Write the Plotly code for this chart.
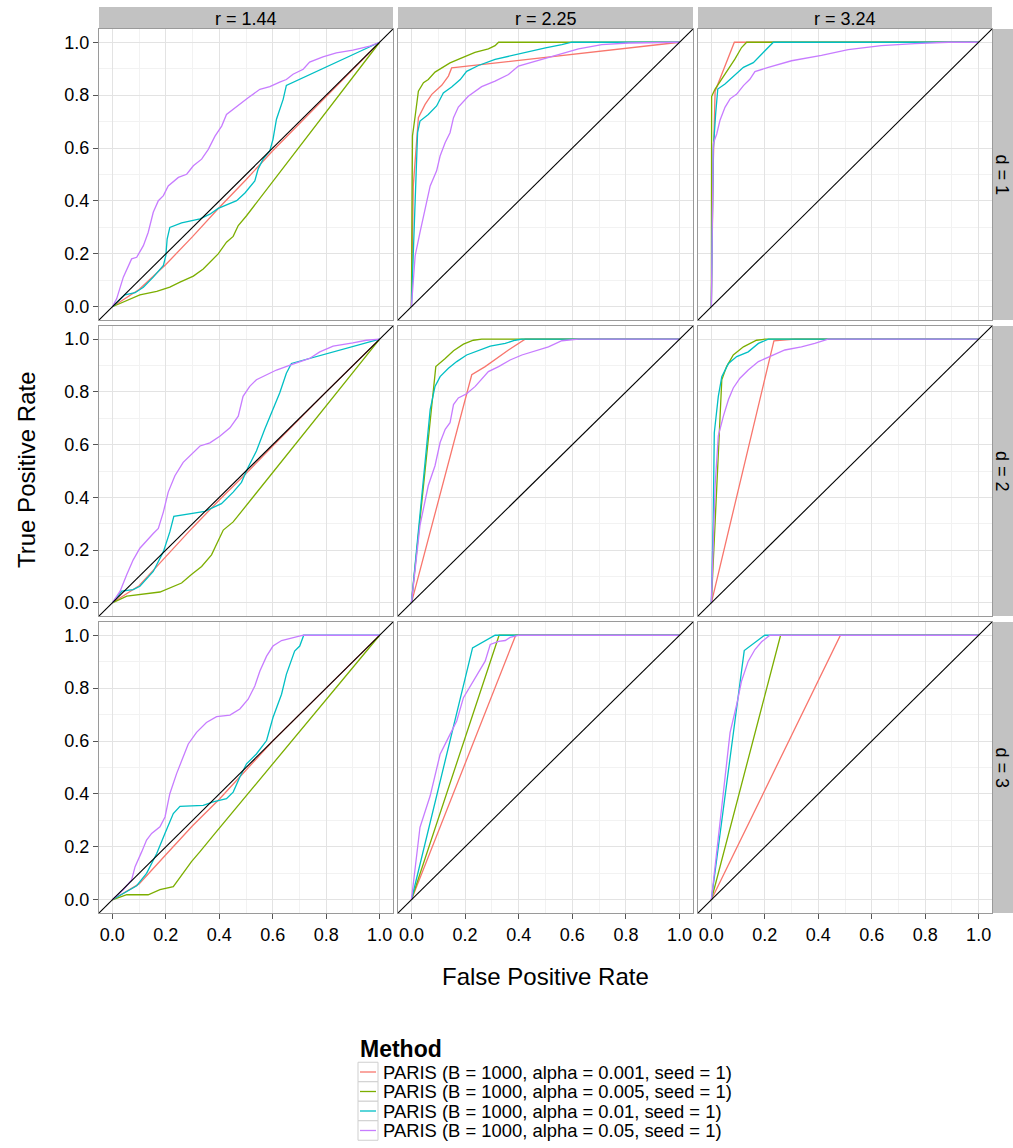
import plotly.graph_objects as go

# ---------------------------------------------------------------- data
METHODS = [
    "PARIS (B = 1000, alpha = 0.001, seed = 1)",
    "PARIS (B = 1000, alpha = 0.005, seed = 1)",
    "PARIS (B = 1000, alpha = 0.01, seed = 1)",
    "PARIS (B = 1000, alpha = 0.05, seed = 1)",
]
COLORS = ["#F8766D", "#7CAE00", "#00BFC4", "#C77CFF"]
R_LABELS = ["r = 1.44", "r = 2.25", "r = 3.24"]
D_LABELS = ["d = 1", "d = 2", "d = 3"]
TICK_VALS = [0.0, 0.2, 0.4, 0.6, 0.8, 1.0]
TICK_TEXT = ["0.0", "0.2", "0.4", "0.6", "0.8", "1.0"]
MINOR_VALS = [0.1, 0.3, 0.5, 0.7, 0.9]

# d = 1, r = 1.44
fpr_d1_r144_a1 = [0, 0.1, 0.2, 0.3, 0.4, 0.5, 0.6, 0.8, 1]
tpr_d1_r144_a1 = [0, 0.065, 0.16, 0.265, 0.375, 0.48, 0.59, 0.795, 1]
fpr_d1_r144_a5 = [0, 0.054, 0.103, 0.166, 0.215, 0.253, 0.303, 0.34, 0.365, 0.396, 0.427, 0.452, 0.471, 0.502, 1]
tpr_d1_r144_a5 = [0, 0.024, 0.045, 0.058, 0.074, 0.093, 0.116, 0.143, 0.168, 0.2, 0.244, 0.266, 0.307, 0.344, 1]
fpr_d1_r144_a10 = [0, 0.047, 0.085, 0.116, 0.153, 0.191, 0.2, 0.205, 0.215, 0.234, 0.259, 0.328, 0.365, 0.396,
                   0.427, 0.465, 0.496, 0.533, 0.545, 0.564, 0.589, 0.601, 0.614, 0.639, 0.651, 1]
tpr_d1_r144_a10 = [0, 0.045, 0.053, 0.074, 0.112, 0.156, 0.193, 0.256, 0.3, 0.307, 0.317, 0.332, 0.35, 0.372,
                   0.384, 0.401, 0.43, 0.476, 0.52, 0.558, 0.589, 0.633, 0.709, 0.784, 0.837, 1]
fpr_d1_r144_a50 = [0, 0.016, 0.041, 0.072, 0.091, 0.116, 0.134, 0.153, 0.172, 0.191, 0.209, 0.247, 0.278, 0.303,
                   0.334, 0.359, 0.384, 0.409, 0.427, 0.465, 0.508, 0.552, 0.589, 0.626, 0.651, 0.676, 0.714,
                   0.738, 0.788, 0.838, 0.9, 0.963, 1]
tpr_d1_r144_a50 = [0, 0.03, 0.112, 0.181, 0.187, 0.231, 0.281, 0.357, 0.401, 0.42, 0.457, 0.489, 0.501, 0.533,
                   0.558, 0.595, 0.645, 0.683, 0.727, 0.758, 0.79, 0.822, 0.832, 0.849, 0.859, 0.879, 0.898,
                   0.925, 0.945, 0.96, 0.97, 0.985, 1]

# d = 1, r = 2.25
fpr_d1_r225_a1 = [0, 0.007, 0.026, 0.051, 0.076, 0.113, 0.138, 0.15, 1]
tpr_d1_r225_a1 = [0, 0.457, 0.715, 0.765, 0.803, 0.837, 0.872, 0.903, 1]
fpr_d1_r225_a5 = [0, 0.004, 0.014, 0.026, 0.045, 0.063, 0.088, 0.113, 0.144, 0.188, 0.237, 0.287, 0.312, 0.325, 0.598, 1]
tpr_d1_r225_a5 = [0, 0.646, 0.721, 0.815, 0.847, 0.859, 0.887, 0.903, 0.922, 0.941, 0.962, 0.975, 0.987, 1, 1, 1]
fpr_d1_r225_a10 = [0, 0.014, 0.023, 0.032, 0.063, 0.094, 0.119, 0.15, 0.182, 0.206, 0.25, 0.312, 0.374, 0.437,
                   0.5, 0.561, 0.598, 1]
tpr_d1_r225_a10 = [0, 0.382, 0.658, 0.702, 0.727, 0.759, 0.808, 0.831, 0.859, 0.89, 0.912, 0.935, 0.95, 0.966,
                   0.979, 0.991, 1, 1]
fpr_d1_r225_a50 = [0, 0.014, 0.032, 0.051, 0.07, 0.094, 0.107, 0.126, 0.144, 0.157, 0.175, 0.212, 0.262, 0.312,
                   0.362, 0.399, 0.461, 0.548, 0.623, 0.71, 0.81, 1]
tpr_d1_r225_a50 = [0, 0.193, 0.281, 0.376, 0.457, 0.514, 0.57, 0.621, 0.658, 0.715, 0.755, 0.796, 0.832, 0.853,
                   0.878, 0.91, 0.928, 0.953, 0.975, 0.991, 0.997, 1]

# d = 1, r = 3.24
fpr_d1_r324_a1 = [0, 0.007, 0.014, 0.086, 1]
tpr_d1_r324_a1 = [0, 0.533, 0.815, 1, 1]
fpr_d1_r324_a5 = [0, 0.001, 0.001, 0.014, 0.039, 0.07, 0.088, 0.113, 0.132, 1]
tpr_d1_r324_a5 = [0, 0.628, 0.795, 0.823, 0.86, 0.905, 0.936, 0.98, 1, 1]
fpr_d1_r324_a10 = [0, 0.007, 0.016, 0.024, 0.051, 0.088, 0.12, 0.157, 0.194, 0.232, 1]
tpr_d1_r324_a10 = [0, 0.59, 0.729, 0.823, 0.842, 0.874, 0.905, 0.923, 0.96, 1, 1]
fpr_d1_r324_a50 = [0, 0.007, 0.02, 0.032, 0.051, 0.07, 0.095, 0.12, 0.144, 0.163, 0.213, 0.3, 0.412, 0.512,
                   0.636, 0.761, 0.887, 1]
tpr_d1_r324_a50 = [0, 0.616, 0.653, 0.704, 0.754, 0.786, 0.804, 0.836, 0.86, 0.889, 0.905, 0.93, 0.95, 0.972,
                   0.987, 0.995, 1, 1]

# d = 2, r = 1.44
fpr_d2_r144_a1 = [0, 0.1, 0.2, 0.3, 0.4, 0.5, 0.6, 0.8, 1]
tpr_d2_r144_a1 = [0, 0.065, 0.175, 0.285, 0.39, 0.49, 0.595, 0.8, 1]
fpr_d2_r144_a5 = [0, 0.054, 0.178, 0.215, 0.259, 0.296, 0.334, 0.371, 0.396, 0.415, 0.452, 1]
tpr_d2_r144_a5 = [0, 0.025, 0.041, 0.056, 0.075, 0.107, 0.138, 0.182, 0.232, 0.276, 0.307, 1]
fpr_d2_r144_a10 = [0, 0.035, 0.078, 0.103, 0.153, 0.191, 0.215, 0.23, 0.346, 0.408, 0.452, 0.483, 0.508, 0.539,
                   0.57, 0.601, 0.626, 0.651, 0.67, 1]
tpr_d2_r144_a10 = [0, 0.044, 0.05, 0.063, 0.119, 0.194, 0.269, 0.328, 0.347, 0.376, 0.42, 0.457, 0.514, 0.576,
                   0.658, 0.733, 0.796, 0.871, 0.908, 1]
fpr_d2_r144_a50 = [0, 0.029, 0.054, 0.078, 0.103, 0.134, 0.153, 0.172, 0.191, 0.209, 0.234, 0.265, 0.296, 0.328,
                   0.365, 0.402, 0.44, 0.471, 0.489, 0.514, 0.539, 0.577, 0.614, 0.665, 0.738, 0.776, 0.826,
                   0.9, 0.95, 1]
tpr_d2_r144_a50 = [0, 0.044, 0.107, 0.163, 0.207, 0.244, 0.263, 0.282, 0.345, 0.42, 0.482, 0.533, 0.564, 0.595,
                   0.607, 0.632, 0.664, 0.708, 0.783, 0.821, 0.846, 0.865, 0.883, 0.902, 0.927, 0.952, 0.974,
                   0.986, 0.996, 1]

# d = 2, r = 2.25
fpr_d2_r225_a1 = [0, 0.225, 0.275, 0.312, 0.362, 0.424, 1]
tpr_d2_r225_a1 = [0, 0.865, 0.896, 0.924, 0.959, 1, 1]
fpr_d2_r225_a5 = [0, 0.073, 0.091, 0.126, 0.157, 0.194, 0.231, 0.262, 1]
tpr_d2_r225_a5 = [0, 0.733, 0.896, 0.927, 0.956, 0.981, 0.996, 1, 1]
fpr_d2_r225_a10 = [0, 0.039, 0.07, 0.088, 0.107, 0.138, 0.169, 0.206, 0.25, 0.294, 0.35, 0.387, 0.412, 1]
tpr_d2_r225_a10 = [0, 0.42, 0.733, 0.821, 0.858, 0.89, 0.915, 0.94, 0.956, 0.974, 0.984, 0.996, 1, 1]
fpr_d2_r225_a50 = [0, 0.032, 0.063, 0.088, 0.107, 0.126, 0.144, 0.157, 0.175, 0.206, 0.238, 0.269, 0.287, 0.325,
                   0.368, 0.412, 0.461, 0.511, 0.561, 0.623, 1]
tpr_d2_r225_a50 = [0, 0.294, 0.445, 0.52, 0.608, 0.658, 0.683, 0.752, 0.777, 0.793, 0.821, 0.858, 0.877, 0.896,
                   0.921, 0.94, 0.956, 0.971, 0.994, 1, 1]

# d = 2, r = 3.24
fpr_d2_r324_a1 = [0, 0.234, 0.313, 1]
tpr_d2_r324_a1 = [0, 0.994, 1, 1]
fpr_d2_r324_a5 = [0, 0.026, 0.039, 0.057, 0.082, 0.12, 0.169, 0.2, 1]
tpr_d2_r324_a5 = [0, 0.57, 0.846, 0.896, 0.94, 0.971, 0.996, 1, 1]
fpr_d2_r324_a10 = [0, 0.007, 0.011, 0.026, 0.039, 0.064, 0.095, 0.138, 0.176, 0.213, 1]
tpr_d2_r324_a10 = [0, 0.32, 0.645, 0.783, 0.858, 0.908, 0.934, 0.952, 0.984, 1, 1]
fpr_d2_r324_a50 = [0, 0.014, 0.026, 0.045, 0.064, 0.082, 0.107, 0.138, 0.176, 0.225, 0.275, 0.337, 0.387, 0.437, 1]
tpr_d2_r324_a50 = [0, 0.445, 0.633, 0.708, 0.771, 0.815, 0.852, 0.883, 0.915, 0.936, 0.959, 0.971, 0.984, 1, 1]

# d = 3, r = 1.44
fpr_d3_r144_a1 = [0, 0.1, 0.2, 0.3, 0.4, 0.5, 0.6, 0.8, 1]
tpr_d3_r144_a1 = [0, 0.06, 0.17, 0.28, 0.38, 0.49, 0.6, 0.8, 1]
fpr_d3_r144_a5 = [0, 0.054, 0.134, 0.178, 0.228, 0.265, 0.296, 0.328, 0.365, 0.384, 1]
tpr_d3_r144_a5 = [0, 0.019, 0.019, 0.038, 0.05, 0.1, 0.144, 0.182, 0.226, 0.251, 1]
fpr_d3_r144_a10 = [0, 0.041, 0.091, 0.128, 0.166, 0.197, 0.228, 0.253, 0.34, 0.377, 0.427, 0.452, 0.477, 0.502,
                   0.539, 0.577, 0.601, 0.633, 0.651, 0.682, 0.701, 0.716, 1]
tpr_d3_r144_a10 = [0, 0.025, 0.053, 0.1, 0.175, 0.251, 0.326, 0.353, 0.357, 0.37, 0.382, 0.407, 0.464, 0.514,
                   0.551, 0.602, 0.689, 0.777, 0.852, 0.94, 0.959, 1, 1]
fpr_d3_r144_a50 = [0, 0.041, 0.072, 0.085, 0.11, 0.128, 0.147, 0.178, 0.197, 0.215, 0.24, 0.265, 0.284, 0.315,
                   0.352, 0.39, 0.44, 0.477, 0.508, 0.533, 0.552, 0.577, 0.601, 0.633, 0.676, 0.714, 1]
tpr_d3_r144_a50 = [0, 0.038, 0.075, 0.125, 0.182, 0.226, 0.251, 0.276, 0.313, 0.401, 0.476, 0.539, 0.589, 0.633,
                   0.67, 0.692, 0.698, 0.721, 0.758, 0.808, 0.865, 0.921, 0.959, 0.98, 0.992, 1, 1]

# d = 3, r = 2.25
fpr_d3_r225_a1 = [0, 0.389, 1]
tpr_d3_r225_a1 = [0, 1, 1]
fpr_d3_r225_a5 = [0, 0.327, 1]
tpr_d3_r225_a5 = [0, 1, 1]
fpr_d3_r225_a10 = [0, 0.228, 0.312, 1]
tpr_d3_r225_a10 = [0, 0.952, 1, 1]
fpr_d3_r225_a50 = [0, 0.032, 0.07, 0.107, 0.138, 0.169, 0.194, 0.231, 0.256, 0.275, 0.294, 0.325, 0.35, 0.368, 0.402, 1]
tpr_d3_r225_a50 = [0, 0.274, 0.393, 0.55, 0.613, 0.676, 0.764, 0.827, 0.871, 0.902, 0.965, 0.977, 0.98, 0.992, 1, 1]

# d = 3, r = 3.24
fpr_d3_r324_a1 = [0, 0.483, 1]
tpr_d3_r324_a1 = [0, 1, 1]
fpr_d3_r324_a5 = [0, 0.259, 1]
tpr_d3_r324_a5 = [0, 1, 1]
fpr_d3_r324_a10 = [0, 0.123, 0.194, 0.2, 1]
tpr_d3_r324_a10 = [0, 0.942, 0.996, 1, 1]
fpr_d3_r324_a50 = [0, 0.07, 0.095, 0.113, 0.138, 0.163, 0.188, 0.219, 1]
tpr_d3_r324_a50 = [0, 0.632, 0.739, 0.827, 0.902, 0.946, 0.975, 1, 1]

# panel grid: rows are d, columns are r; each entry lists the four methods
PANELS = [
    [
        [(fpr_d1_r144_a1, tpr_d1_r144_a1), (fpr_d1_r144_a5, tpr_d1_r144_a5),
         (fpr_d1_r144_a10, tpr_d1_r144_a10), (fpr_d1_r144_a50, tpr_d1_r144_a50)],
        [(fpr_d1_r225_a1, tpr_d1_r225_a1), (fpr_d1_r225_a5, tpr_d1_r225_a5),
         (fpr_d1_r225_a10, tpr_d1_r225_a10), (fpr_d1_r225_a50, tpr_d1_r225_a50)],
        [(fpr_d1_r324_a1, tpr_d1_r324_a1), (fpr_d1_r324_a5, tpr_d1_r324_a5),
         (fpr_d1_r324_a10, tpr_d1_r324_a10), (fpr_d1_r324_a50, tpr_d1_r324_a50)],
    ],
    [
        [(fpr_d2_r144_a1, tpr_d2_r144_a1), (fpr_d2_r144_a5, tpr_d2_r144_a5),
         (fpr_d2_r144_a10, tpr_d2_r144_a10), (fpr_d2_r144_a50, tpr_d2_r144_a50)],
        [(fpr_d2_r225_a1, tpr_d2_r225_a1), (fpr_d2_r225_a5, tpr_d2_r225_a5),
         (fpr_d2_r225_a10, tpr_d2_r225_a10), (fpr_d2_r225_a50, tpr_d2_r225_a50)],
        [(fpr_d2_r324_a1, tpr_d2_r324_a1), (fpr_d2_r324_a5, tpr_d2_r324_a5),
         (fpr_d2_r324_a10, tpr_d2_r324_a10), (fpr_d2_r324_a50, tpr_d2_r324_a50)],
    ],
    [
        [(fpr_d3_r144_a1, tpr_d3_r144_a1), (fpr_d3_r144_a5, tpr_d3_r144_a5),
         (fpr_d3_r144_a10, tpr_d3_r144_a10), (fpr_d3_r144_a50, tpr_d3_r144_a50)],
        [(fpr_d3_r225_a1, tpr_d3_r225_a1), (fpr_d3_r225_a5, tpr_d3_r225_a5),
         (fpr_d3_r225_a10, tpr_d3_r225_a10), (fpr_d3_r225_a50, tpr_d3_r225_a50)],
        [(fpr_d3_r324_a1, tpr_d3_r324_a1), (fpr_d3_r324_a5, tpr_d3_r324_a5),
         (fpr_d3_r324_a10, tpr_d3_r324_a10), (fpr_d3_r324_a50, tpr_d3_r324_a50)],
    ],
]

# ---------------------------------------------------------------- layout geometry (pixels)
W, H = 1013, 1148
COL_PX = [(99, 393), (398, 693), (698, 992)]
ROW_PX = [(29, 320), (326, 616), (622, 913)]
STRIP_TOP = (7, 29)
STRIP_RIGHT = (993, 1013)
RANGE = [-0.05, 1.05]
FONT = "Liberation Sans, Arial, Helvetica, sans-serif"


def fx(px):
    return px / W


def fy(py):
    return 1 - py / H


fig = go.Figure()
layout = dict(
    width=W, height=H,
    margin=dict(l=0, r=0, t=0, b=0),
    paper_bgcolor="white", plot_bgcolor="white",
    showlegend=False,
    font=dict(family=FONT, size=18, color="black"),
)
shapes = []
annotations = []

for r in range(3):
    for c in range(3):
        k = r * 3 + c + 1
        sfx = "" if k == 1 else str(k)
        xa, ya = "x" + sfx, "y" + sfx
        for m, (fpr, tpr) in enumerate(PANELS[r][c]):
            fig.add_trace(go.Scatter(
                x=fpr, y=tpr, mode="lines", name=METHODS[m],
                line=dict(color=COLORS[m], width=1.3),
                xaxis=xa, yaxis=ya, hoverinfo="x+y+name",
            ))
        # chance diagonal across the full panel
        fig.add_trace(go.Scatter(
            x=RANGE, y=RANGE, mode="lines", line=dict(color="black", width=1.1),
            xaxis=xa, yaxis=ya, hoverinfo="skip",
        ))
        common = dict(
            range=RANGE, tickmode="array", tickvals=TICK_VALS, ticktext=TICK_TEXT,
            showgrid=True, gridcolor="#e3e3e3", gridwidth=1,
            minor=dict(tickmode="array", tickvals=MINOR_VALS, showgrid=True,
                       gridcolor="#f2f2f2", gridwidth=1),
            zeroline=False, showline=True, mirror=True, linecolor="#9a9a9a", linewidth=1,
            tickfont=dict(family=FONT, size=18, color="black"),
            tickcolor="#555555", ticklen=5, tickwidth=1,
            fixedrange=True,
        )
        layout["xaxis" + sfx] = dict(
            common, domain=[fx(COL_PX[c][0]), fx(COL_PX[c][1])], anchor=ya,
            ticks="outside" if r == 2 else "", showticklabels=(r == 2),
        )
        layout["yaxis" + sfx] = dict(
            common, domain=[fy(ROW_PX[r][1]), fy(ROW_PX[r][0])], anchor=xa,
            ticks="outside" if c == 0 else "", showticklabels=(c == 0),
        )

# column strips (r)
for c in range(3):
    shapes.append(dict(type="rect", xref="paper", yref="paper",
                       x0=fx(COL_PX[c][0]), x1=fx(COL_PX[c][1]),
                       y0=fy(STRIP_TOP[1]), y1=fy(STRIP_TOP[0]),
                       fillcolor="#c2c2c2", line=dict(width=0), layer="below"))
    annotations.append(dict(text=R_LABELS[c], xref="paper", yref="paper",
                            x=fx((COL_PX[c][0] + COL_PX[c][1]) / 2),
                            y=fy((STRIP_TOP[0] + STRIP_TOP[1]) / 2 + 1),
                            showarrow=False, xanchor="center", yanchor="middle",
                            font=dict(family=FONT, size=18, color="black")))
# row strips (d)
for r in range(3):
    shapes.append(dict(type="rect", xref="paper", yref="paper",
                       x0=fx(STRIP_RIGHT[0]), x1=fx(STRIP_RIGHT[1]),
                       y0=fy(ROW_PX[r][1]), y1=fy(ROW_PX[r][0]),
                       fillcolor="#c2c2c2", line=dict(width=0), layer="below"))
    annotations.append(dict(text=D_LABELS[r], xref="paper", yref="paper",
                            x=fx(1002), y=fy((ROW_PX[r][0] + ROW_PX[r][1]) / 2),
                            showarrow=False, xanchor="center", yanchor="middle", textangle=90,
                            font=dict(family=FONT, size=18, color="black")))

# axis titles
annotations.append(dict(text="False Positive Rate", xref="paper", yref="paper",
                        x=fx(545), y=fy(977), showarrow=False,
                        xanchor="center", yanchor="middle",
                        font=dict(family=FONT, size=24, color="black")))
annotations.append(dict(text="True Positive Rate", xref="paper", yref="paper",
                        x=fx(26), y=fy(470), showarrow=False, textangle=-90,
                        xanchor="center", yanchor="middle",
                        font=dict(family=FONT, size=24, color="black")))

# legend: title, keyed boxes and labels
LEG_X, LEG_TITLE_Y, LEG_FIRST_Y, LEG_STEP = 358, 1049, 1072, 19.5
annotations.append(dict(text="<b>Method</b>", xref="paper", yref="paper",
                        x=fx(LEG_X), y=fy(LEG_TITLE_Y), showarrow=False,
                        xanchor="left", yanchor="middle",
                        font=dict(family=FONT, size=23, color="black")))
for m, name in enumerate(METHODS):
    yc = LEG_FIRST_Y + m * LEG_STEP
    shapes.append(dict(type="rect", xref="paper", yref="paper",
                       x0=fx(LEG_X), x1=fx(LEG_X + 20),
                       y0=fy(yc + LEG_STEP / 2), y1=fy(yc - LEG_STEP / 2),
                       fillcolor="white", line=dict(color="#cfcfcf", width=1)))
    shapes.append(dict(type="line", xref="paper", yref="paper",
                       x0=fx(LEG_X + 2), x1=fx(LEG_X + 18), y0=fy(yc), y1=fy(yc),
                       line=dict(color=COLORS[m], width=1.3)))
    annotations.append(dict(text=name, xref="paper", yref="paper",
                            x=fx(LEG_X + 23), y=fy(yc), showarrow=False,
                            xanchor="left", yanchor="middle",
                            font=dict(family=FONT, size=18.4, color="black")))

layout["shapes"] = shapes
layout["annotations"] = annotations
fig.update_layout(**layout)
fig.write_html("out.html")
